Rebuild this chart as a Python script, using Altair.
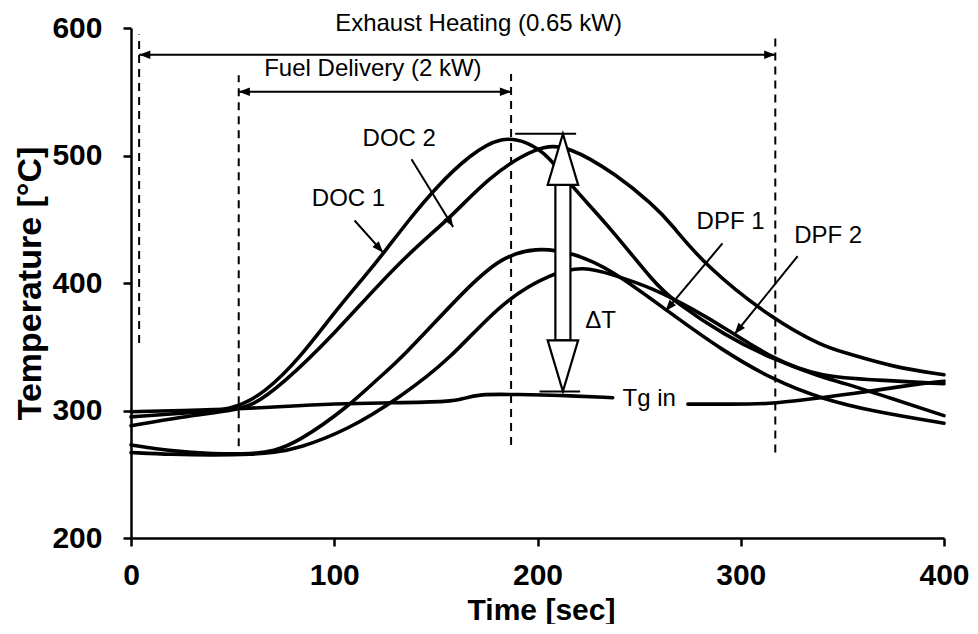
import math
import altair as alt
import pandas as pd

# ---------------- data ----------------
t_doc1 = [0, 25, 50, 66, 83, 101, 116, 125, 137, 150, 167, 182, 195, 206, 216, 235, 258, 267, 292, 316, 340, 350, 375, 400]
v_doc1 = [295, 298, 300, 314, 341, 379, 407, 425, 450, 475, 501, 515, 511, 499, 477, 445, 399, 386, 359, 340, 326, 322, 309, 296]

t_doc2 = [0, 25, 50, 60, 74, 99, 133, 158, 175, 200, 215, 239, 257, 265, 282, 316, 341, 350, 375, 400]
v_doc2 = [288, 295, 300, 304, 320, 358, 419, 452, 482, 508, 508, 485, 461, 448, 414, 371, 350, 346, 334, 328]

t_dpf1 = [0, 20, 40, 60, 70, 82, 107, 122, 132, 165, 182, 199, 217, 236, 264, 291, 316, 340, 366, 400]
v_dpf1 = [273, 268, 266, 266, 268, 275, 303, 326, 339, 396, 420, 428, 424, 411, 378, 347, 324, 309, 299, 290]

t_dpf2 = [0, 20, 40, 60, 70, 82, 107, 132, 157, 182, 207, 223, 236, 257, 277, 292, 316, 340, 367, 400]
v_dpf2 = [267, 265.5, 265, 265.5, 267, 270, 285, 310, 340, 385, 408, 413, 407, 396, 379, 365, 340, 326, 324, 321]

t_tg_a = [0, 25, 51, 84, 105, 128, 158, 163, 171, 190, 210, 237]
v_tg_a = [299, 300, 301, 304, 305.5, 306, 307, 309, 313, 312.5, 312, 310]
t_tg_b = [274, 295, 314, 334, 355, 383, 400]
v_tg_b = [305, 305, 305, 309, 313, 320, 323]

# dashed vertical markers
mark_t = [4, 53, 187, 317]
mark_v_low = [353, 272, 273, 267]
mark_v_high = [595, 563, 564, 595]

# period arrows (double-headed)
span_t0 = [4, 53]
span_t1 = [317, 187]
span_v = [579, 550]

# labels
label_text = ["Exhaust Heating (0.65 kW)", "Fuel Delivery (2 kW)", "DOC 1", "DOC 2",
              "DPF 1", "DPF 2", "\u0394T", "Tg in"]
label_t = [171, 119, 107, 132, 295, 343, 231, 255]
label_v = [603, 568, 466, 513, 448, 437, 370, 309]

# leader arrows (from -> to)
lead_t0 = [110, 138, 291, 328]
lead_v0 = [449, 497, 431, 421]
lead_t1 = [124, 158.5, 263, 297]
lead_v1 = [424, 444, 378, 360]

# Delta-T hollow arrow
dt_t = 212.5
dt_v_low, dt_v_high = 315, 517
dt_head_len = 40
dt_head_half, dt_shaft_half = 7.5, 3.7
cap_t0 = [189, 201]
cap_t1 = [219, 221]
cap_v = [517, 315]

# ---------------- chart ----------------
W, H = 813, 510
SX = W / 400.0
SY = H / 400.0
FONT = "Liberation Sans"

xs = alt.Scale(domain=[0, 400], nice=False, zero=False)
ys = alt.Scale(domain=[200, 600], nice=False, zero=False)

xaxis = alt.Axis(values=[0, 100, 200, 300, 400], grid=False, labelFont=FONT, labelFontSize=30,
                 labelFontWeight="bold", labelColor="black", labelPadding=14, labelFlush=False,
                 labelOverlap=False, tickSize=8, tickWidth=2.5, tickColor="black",
                 domainColor="black", domainWidth=2.5, titleFont=FONT, titleFontSize=30,
                 titleFontWeight="bold", titleColor="black", titleX=410, titleY=72,
                 titleAlign="center", titleBaseline="middle", title="Time [sec]")
yaxis = alt.Axis(values=[200, 300, 400, 500, 600], grid=False, labelFont=FONT, labelFontSize=30,
                 labelFontWeight="bold", labelColor="black", labelPadding=21, labelFlush=False,
                 labelOverlap=False, tickSize=8, tickWidth=2.5, tickColor="black",
                 domainColor="black", domainWidth=2.5, titleFont=FONT, titleFontSize=34,
                 titleFontWeight="bold", titleColor="black", titleX=-101, titleY=255,
                 titleAngle=270, titleAlign="center", titleBaseline="middle",
                 title="Temperature [\u00b0C]")


def X(field="t"):
    return alt.X(f"{field}:Q", scale=xs, axis=xaxis)


def Y(field="v"):
    return alt.Y(f"{field}:Q", scale=ys, axis=yaxis)


rows = []
for key, ts, vs in [("DOC1", t_doc1, v_doc1), ("DOC2", t_doc2, v_doc2), ("DPF1", t_dpf1, v_dpf1),
                    ("DPF2", t_dpf2, v_dpf2), ("TgA", t_tg_a, v_tg_a), ("TgB", t_tg_b, v_tg_b)]:
    for t, v in zip(ts, vs):
        rows.append({"key": key, "t": t, "v": v})
curves = pd.DataFrame(rows)

lines = alt.Chart(curves).mark_line(color="black", strokeWidth=3.6, interpolate="basis",
                                    strokeCap="round", strokeJoin="round").encode(
    x=X(), y=Y(), detail="key:N", order="t:Q")

dashes = alt.Chart(pd.DataFrame({"t": mark_t, "v": mark_v_low, "v2": mark_v_high})).mark_rule(
    color="black", strokeWidth=2, strokeDash=[8, 6]).encode(x=X(), y=Y(), y2="v2:Q")

spans = alt.Chart(pd.DataFrame({"t": span_t0, "t2": span_t1, "v": span_v})).mark_rule(
    color="black", strokeWidth=2).encode(x=X(), x2="t2:Q", y=Y())

leads = alt.Chart(pd.DataFrame({"t": lead_t0, "t2": lead_t1, "v": lead_v0, "v2": lead_v1})).mark_rule(
    color="black", strokeWidth=2).encode(x=X(), x2="t2:Q", y=Y(), y2="v2:Q")


def ang(dt, dv):
    return math.degrees(math.atan2(dt * SX, dv * SY)) % 360


heads = []
for a, b, v in zip(span_t0, span_t1, span_v):
    heads.append({"t": a, "v": v, "a": ang(a - b, 0)})
    heads.append({"t": b, "v": v, "a": ang(b - a, 0)})
for a0, b0, a1, b1 in zip(lead_t0, lead_v0, lead_t1, lead_v1):
    heads.append({"t": a1, "v": b1, "a": ang(a1 - a0, b1 - b0)})
arrow_path = "M0,0 L0.38,1 L-0.38,1 Z"
headmarks = alt.Chart(pd.DataFrame(heads)).mark_point(
    shape=arrow_path, filled=True, color="black", size=500, opacity=1).encode(
    x=X(), y=Y(), angle=alt.Angle("a:Q", scale=None))

# hollow double arrow for Delta T: white shaft + two white heads with black outline
shaft = alt.Chart(pd.DataFrame({
    "t": [dt_t - dt_shaft_half], "t2": [dt_t + dt_shaft_half],
    "v": [dt_v_low + dt_head_len], "v2": [dt_v_high - dt_head_len]})).mark_bar(
    fill="white", stroke="black", strokeWidth=2.2, opacity=1).encode(
    x=X(), x2="t2:Q", y=Y(), y2="v2:Q")

head_len_px = dt_head_len * SY
head_size = (2 * head_len_px) ** 2
head_w = dt_head_half * SX / head_len_px
big_head_path = f"M0,0 L{head_w:.3f},1 L{-head_w:.3f},1 Z"
bighead = alt.Chart(pd.DataFrame({"t": [dt_t, dt_t], "v": [dt_v_high, dt_v_low],
                                  "a": [0, 180]})).mark_point(
    shape=big_head_path, filled=True, fill="white", stroke="black", strokeWidth=2.2,
    size=head_size, opacity=1, fillOpacity=1, strokeOpacity=1).encode(
    x=X(), y=Y(), angle=alt.Angle("a:Q", scale=None))

caps = alt.Chart(pd.DataFrame({"t": cap_t0, "t2": cap_t1, "v": cap_v})).mark_rule(
    color="black", strokeWidth=2).encode(x=X(), x2="t2:Q", y=Y())

texts = alt.Chart(pd.DataFrame({"t": label_t, "v": label_v, "txt": label_text})).mark_text(
    font=FONT, fontSize=24, color="black", align="center", baseline="middle").encode(
    x=X(), y=Y(), text="txt:N")

chart = alt.layer(lines, dashes, spans, leads, headmarks, shaft, bighead, caps, texts).properties(
    width=W, height=H, autosize=alt.AutoSizeParams(type="none"),
    padding={"left": 123, "top": 20, "right": 26, "bottom": 86},
    background="white",
).configure_view(stroke=None)

chart.save("out.html", embed_options={"renderer": "svg", "actions": False})
